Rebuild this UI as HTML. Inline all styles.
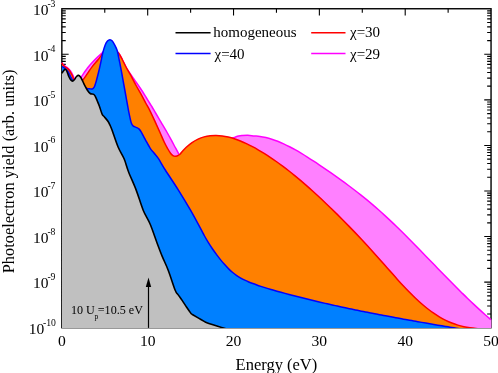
<!DOCTYPE html>
<html><head><meta charset="utf-8"><title>Photoelectron yield</title>
<style>
html,body{margin:0;padding:0;background:#fff;}
body{width:498px;height:373px;overflow:hidden;position:relative;font-family:"Liberation Serif",serif;}
</style></head><body>
<svg width="498" height="373" viewBox="0 0 498 373" style="position:absolute;left:0;top:0">
<rect x="0" y="0" width="498" height="373" fill="#fff"/>
<rect x="61.85" y="8.75" width="429.20" height="318.95" stroke="#000" stroke-width="1.4" fill="none"/>
<path d="M104.77,8.75v3.90M104.77,327.70v-3.90M147.69,8.75v6.80M147.69,327.70v-6.80M190.61,8.75v3.90M190.61,327.70v-3.90M233.53,8.75v6.80M233.53,327.70v-6.80M276.45,8.75v3.90M276.45,327.70v-3.90M319.37,8.75v6.80M319.37,327.70v-6.80M362.29,8.75v3.90M362.29,327.70v-3.90M405.21,8.75v6.80M405.21,327.70v-6.80M448.13,8.75v3.90M448.13,327.70v-3.90M61.85,40.60h3.90M491.05,40.60h-3.90M61.85,32.57h3.90M491.05,32.57h-3.90M61.85,26.88h3.90M491.05,26.88h-3.90M61.85,22.47h3.90M491.05,22.47h-3.90M61.85,18.86h3.90M491.05,18.86h-3.90M61.85,15.81h3.90M491.05,15.81h-3.90M61.85,13.17h3.90M491.05,13.17h-3.90M61.85,10.83h3.90M491.05,10.83h-3.90M61.85,54.31h6.80M491.05,54.31h-6.80M61.85,86.16h3.90M491.05,86.16h-3.90M61.85,78.14h3.90M491.05,78.14h-3.90M61.85,72.45h3.90M491.05,72.45h-3.90M61.85,68.03h3.90M491.05,68.03h-3.90M61.85,64.42h3.90M491.05,64.42h-3.90M61.85,61.37h3.90M491.05,61.37h-3.90M61.85,58.73h3.90M491.05,58.73h-3.90M61.85,56.40h3.90M491.05,56.40h-3.90M61.85,99.88h6.80M491.05,99.88h-6.80M61.85,131.73h3.90M491.05,131.73h-3.90M61.85,123.70h3.90M491.05,123.70h-3.90M61.85,118.01h3.90M491.05,118.01h-3.90M61.85,113.59h3.90M491.05,113.59h-3.90M61.85,109.99h3.90M491.05,109.99h-3.90M61.85,106.94h3.90M491.05,106.94h-3.90M61.85,104.29h3.90M491.05,104.29h-3.90M61.85,101.96h3.90M491.05,101.96h-3.90M61.85,145.44h6.80M491.05,145.44h-6.80M61.85,177.29h3.90M491.05,177.29h-3.90M61.85,169.27h3.90M491.05,169.27h-3.90M61.85,163.57h3.90M491.05,163.57h-3.90M61.85,159.16h3.90M491.05,159.16h-3.90M61.85,155.55h3.90M491.05,155.55h-3.90M61.85,152.50h3.90M491.05,152.50h-3.90M61.85,149.86h3.90M491.05,149.86h-3.90M61.85,147.53h3.90M491.05,147.53h-3.90M61.85,191.01h6.80M491.05,191.01h-6.80M61.85,222.86h3.90M491.05,222.86h-3.90M61.85,214.83h3.90M491.05,214.83h-3.90M61.85,209.14h3.90M491.05,209.14h-3.90M61.85,204.72h3.90M491.05,204.72h-3.90M61.85,201.12h3.90M491.05,201.12h-3.90M61.85,198.07h3.90M491.05,198.07h-3.90M61.85,195.42h3.90M491.05,195.42h-3.90M61.85,193.09h3.90M491.05,193.09h-3.90M61.85,236.57h6.80M491.05,236.57h-6.80M61.85,268.42h3.90M491.05,268.42h-3.90M61.85,260.40h3.90M491.05,260.40h-3.90M61.85,254.70h3.90M491.05,254.70h-3.90M61.85,250.29h3.90M491.05,250.29h-3.90M61.85,246.68h3.90M491.05,246.68h-3.90M61.85,243.63h3.90M491.05,243.63h-3.90M61.85,240.99h3.90M491.05,240.99h-3.90M61.85,238.66h3.90M491.05,238.66h-3.90M61.85,282.14h6.80M491.05,282.14h-6.80M61.85,313.98h3.90M491.05,313.98h-3.90M61.85,305.96h3.90M491.05,305.96h-3.90M61.85,300.27h3.90M491.05,300.27h-3.90M61.85,295.85h3.90M491.05,295.85h-3.90M61.85,292.24h3.90M491.05,292.24h-3.90M61.85,289.19h3.90M491.05,289.19h-3.90M61.85,286.55h3.90M491.05,286.55h-3.90M61.85,284.22h3.90M491.05,284.22h-3.90" stroke="#000" stroke-width="1.1" fill="none"/>
<defs><clipPath id="cp"><rect x="0" y="0" width="498" height="327.90"/></clipPath></defs>
<g clip-path="url(#cp)">
<path d="M62.00,327.90L62.00,62.60L61.90,62.60C62.03,62.82 62.40,63.48 62.70,63.90C63.00,64.32 63.32,64.72 63.70,65.10C64.08,65.48 64.45,65.82 65.00,66.20C65.55,66.58 66.32,66.90 67.00,67.40C67.68,67.90 68.52,68.62 69.10,69.20C69.68,69.78 70.02,70.18 70.50,70.90C70.98,71.62 71.55,72.68 72.00,73.50C72.45,74.32 72.78,74.92 73.20,75.80C73.62,76.68 73.87,78.18 74.50,78.80C75.13,79.42 76.17,79.55 77.00,79.50C77.83,79.45 78.73,79.02 79.50,78.50C80.27,77.98 80.85,77.33 81.60,76.40C82.35,75.47 83.18,74.07 84.00,72.90C84.82,71.73 85.82,70.35 86.50,69.40C87.18,68.45 87.15,68.35 88.10,67.20C89.05,66.05 90.58,64.22 92.20,62.50C93.82,60.78 96.17,58.48 97.80,56.90C99.43,55.32 100.63,54.23 102.00,53.00C103.37,51.77 104.67,50.33 106.00,49.50C107.33,48.67 108.67,48.00 110.00,48.00C111.33,48.00 112.58,48.67 114.00,49.50C115.42,50.33 117.08,51.25 118.50,53.00C119.92,54.75 121.25,57.67 122.50,60.00C123.75,62.33 124.75,64.75 126.00,67.00C127.25,69.25 128.50,71.23 130.00,73.50C131.50,75.77 133.37,78.27 135.00,80.60C136.63,82.93 138.50,85.60 139.80,87.50C141.10,89.40 141.68,90.25 142.80,92.00C143.92,93.75 145.27,96.00 146.50,98.00C147.73,100.00 149.27,102.50 150.20,104.00C151.13,105.50 151.20,105.50 152.10,107.00C153.00,108.50 154.12,110.48 155.60,113.00C157.08,115.52 159.12,118.93 161.00,122.10C162.88,125.27 165.12,128.98 166.85,132.00C168.58,135.02 169.99,137.62 171.40,140.20C172.81,142.78 174.10,145.27 175.30,147.50C176.50,149.73 177.82,152.18 178.60,153.60C179.38,155.02 179.27,155.43 180.00,156.00C180.73,156.57 181.33,157.67 183.00,157.00C184.67,156.33 187.17,153.83 190.00,152.00C192.83,150.17 195.83,147.83 200.00,146.00C204.17,144.17 210.83,142.17 215.00,141.00C219.17,139.83 221.93,139.53 225.00,139.00C228.07,138.47 231.57,138.17 233.40,137.80C235.23,137.43 235.15,137.08 236.00,136.80C236.85,136.52 237.50,136.30 238.50,136.10C239.50,135.90 240.47,135.73 242.00,135.60C243.53,135.47 245.70,135.25 247.70,135.30C249.70,135.35 251.96,135.71 254.00,135.90C256.04,136.08 257.95,136.14 259.93,136.41C261.90,136.68 263.88,137.06 265.86,137.52C267.83,137.98 269.81,138.54 271.78,139.17C273.76,139.80 275.73,140.52 277.71,141.30C279.69,142.08 281.66,142.94 283.64,143.85C285.61,144.76 287.59,145.73 289.56,146.75C291.54,147.77 293.52,148.85 295.49,149.96C297.47,151.07 299.44,152.23 301.42,153.42C303.40,154.60 305.37,155.83 307.35,157.08C309.32,158.33 311.30,159.61 313.27,160.91C315.25,162.20 317.23,163.52 319.20,164.85C321.18,166.17 323.15,167.51 325.13,168.86C327.11,170.21 329.08,171.57 331.06,172.95C333.03,174.32 335.01,175.71 336.99,177.12C338.96,178.52 340.94,179.94 342.91,181.38C344.89,182.83 346.86,184.28 348.84,185.76C350.82,187.24 352.79,188.74 354.77,190.27C356.74,191.79 358.72,193.34 360.69,194.91C362.67,196.48 364.65,198.08 366.62,199.70C368.60,201.33 370.57,202.98 372.55,204.66C374.53,206.34 376.50,208.05 378.48,209.80C380.45,211.54 382.43,213.32 384.40,215.12C386.38,216.93 388.36,218.77 390.33,220.63C392.31,222.49 394.28,224.38 396.26,226.29C398.24,228.20 400.21,230.13 402.19,232.08C404.16,234.03 406.14,236.00 408.12,237.99C410.09,239.97 412.07,241.97 414.04,243.98C416.02,245.99 417.99,248.01 419.97,250.04C421.95,252.07 423.92,254.11 425.90,256.15C427.87,258.18 429.85,260.23 431.83,262.27C433.80,264.31 435.78,266.36 437.75,268.40C439.73,270.44 441.70,272.47 443.68,274.50C445.66,276.53 447.63,278.55 449.61,280.56C451.58,282.57 453.56,284.57 455.53,286.55C457.51,288.53 459.49,290.50 461.46,292.45C463.44,294.39 465.41,296.33 467.39,298.23C469.37,300.14 471.34,302.03 473.32,303.88C475.29,305.74 477.27,307.58 479.25,309.38C481.22,311.18 483.20,312.95 485.17,314.69C487.15,316.43 490.11,318.95 491.10,319.80L491.40,319.80L491.40,327.90Z" fill="#ff80ff" stroke="none"/>
<path d="M61.90,62.60C62.03,62.82 62.40,63.48 62.70,63.90C63.00,64.32 63.32,64.72 63.70,65.10C64.08,65.48 64.45,65.82 65.00,66.20C65.55,66.58 66.32,66.90 67.00,67.40C67.68,67.90 68.52,68.62 69.10,69.20C69.68,69.78 70.02,70.18 70.50,70.90C70.98,71.62 71.55,72.68 72.00,73.50C72.45,74.32 72.78,74.92 73.20,75.80C73.62,76.68 73.87,78.18 74.50,78.80C75.13,79.42 76.17,79.55 77.00,79.50C77.83,79.45 78.73,79.02 79.50,78.50C80.27,77.98 80.85,77.33 81.60,76.40C82.35,75.47 83.18,74.07 84.00,72.90C84.82,71.73 85.82,70.35 86.50,69.40C87.18,68.45 87.15,68.35 88.10,67.20C89.05,66.05 90.58,64.22 92.20,62.50C93.82,60.78 96.17,58.48 97.80,56.90C99.43,55.32 100.63,54.23 102.00,53.00C103.37,51.77 104.67,50.33 106.00,49.50C107.33,48.67 108.67,48.00 110.00,48.00C111.33,48.00 112.58,48.67 114.00,49.50C115.42,50.33 117.08,51.25 118.50,53.00C119.92,54.75 121.25,57.67 122.50,60.00C123.75,62.33 124.75,64.75 126.00,67.00C127.25,69.25 128.50,71.23 130.00,73.50C131.50,75.77 133.37,78.27 135.00,80.60C136.63,82.93 138.50,85.60 139.80,87.50C141.10,89.40 141.68,90.25 142.80,92.00C143.92,93.75 145.27,96.00 146.50,98.00C147.73,100.00 149.27,102.50 150.20,104.00C151.13,105.50 151.20,105.50 152.10,107.00C153.00,108.50 154.12,110.48 155.60,113.00C157.08,115.52 159.12,118.93 161.00,122.10C162.88,125.27 165.12,128.98 166.85,132.00C168.58,135.02 169.99,137.62 171.40,140.20C172.81,142.78 174.10,145.27 175.30,147.50C176.50,149.73 177.82,152.18 178.60,153.60C179.38,155.02 179.27,155.43 180.00,156.00C180.73,156.57 181.33,157.67 183.00,157.00C184.67,156.33 187.17,153.83 190.00,152.00C192.83,150.17 195.83,147.83 200.00,146.00C204.17,144.17 210.83,142.17 215.00,141.00C219.17,139.83 221.93,139.53 225.00,139.00C228.07,138.47 231.57,138.17 233.40,137.80C235.23,137.43 235.15,137.08 236.00,136.80C236.85,136.52 237.50,136.30 238.50,136.10C239.50,135.90 240.47,135.73 242.00,135.60C243.53,135.47 245.70,135.25 247.70,135.30C249.70,135.35 251.96,135.71 254.00,135.90C256.04,136.08 257.95,136.14 259.93,136.41C261.90,136.68 263.88,137.06 265.86,137.52C267.83,137.98 269.81,138.54 271.78,139.17C273.76,139.80 275.73,140.52 277.71,141.30C279.69,142.08 281.66,142.94 283.64,143.85C285.61,144.76 287.59,145.73 289.56,146.75C291.54,147.77 293.52,148.85 295.49,149.96C297.47,151.07 299.44,152.23 301.42,153.42C303.40,154.60 305.37,155.83 307.35,157.08C309.32,158.33 311.30,159.61 313.27,160.91C315.25,162.20 317.23,163.52 319.20,164.85C321.18,166.17 323.15,167.51 325.13,168.86C327.11,170.21 329.08,171.57 331.06,172.95C333.03,174.32 335.01,175.71 336.99,177.12C338.96,178.52 340.94,179.94 342.91,181.38C344.89,182.83 346.86,184.28 348.84,185.76C350.82,187.24 352.79,188.74 354.77,190.27C356.74,191.79 358.72,193.34 360.69,194.91C362.67,196.48 364.65,198.08 366.62,199.70C368.60,201.33 370.57,202.98 372.55,204.66C374.53,206.34 376.50,208.05 378.48,209.80C380.45,211.54 382.43,213.32 384.40,215.12C386.38,216.93 388.36,218.77 390.33,220.63C392.31,222.49 394.28,224.38 396.26,226.29C398.24,228.20 400.21,230.13 402.19,232.08C404.16,234.03 406.14,236.00 408.12,237.99C410.09,239.97 412.07,241.97 414.04,243.98C416.02,245.99 417.99,248.01 419.97,250.04C421.95,252.07 423.92,254.11 425.90,256.15C427.87,258.18 429.85,260.23 431.83,262.27C433.80,264.31 435.78,266.36 437.75,268.40C439.73,270.44 441.70,272.47 443.68,274.50C445.66,276.53 447.63,278.55 449.61,280.56C451.58,282.57 453.56,284.57 455.53,286.55C457.51,288.53 459.49,290.50 461.46,292.45C463.44,294.39 465.41,296.33 467.39,298.23C469.37,300.14 471.34,302.03 473.32,303.88C475.29,305.74 477.27,307.58 479.25,309.38C481.22,311.18 483.20,312.95 485.17,314.69C487.15,316.43 490.11,318.95 491.10,319.80" fill="none" stroke="#ff00ff" stroke-width="1.5" stroke-linejoin="round"/>

<path d="M62.00,327.90L62.00,62.90L61.90,62.90C62.02,63.13 62.33,63.85 62.60,64.30C62.87,64.75 63.10,65.18 63.50,65.60C63.90,66.02 64.42,66.38 65.00,66.80C65.58,67.22 66.32,67.55 67.00,68.10C67.68,68.65 68.58,69.50 69.10,70.10C69.62,70.70 69.75,71.13 70.10,71.70C70.45,72.27 70.80,72.78 71.20,73.50C71.60,74.22 72.08,75.07 72.50,76.00C72.92,76.93 73.12,78.35 73.70,79.10C74.28,79.85 74.95,80.10 76.00,80.50C77.05,80.90 78.78,81.68 80.00,81.50C81.22,81.32 82.07,80.72 83.30,79.40C84.53,78.08 85.92,75.73 87.40,73.60C88.88,71.47 90.43,68.92 92.20,66.60C93.97,64.28 96.33,61.77 98.00,59.70C99.67,57.63 100.87,55.90 102.20,54.20C103.53,52.50 104.70,50.53 106.00,49.50C107.30,48.47 108.67,48.00 110.00,48.00C111.33,48.00 112.58,48.67 114.00,49.50C115.42,50.33 117.08,51.25 118.50,53.00C119.92,54.75 121.25,57.67 122.50,60.00C123.75,62.33 124.73,64.63 126.00,67.00C127.27,69.37 128.47,71.20 130.10,74.20C131.73,77.20 133.87,81.48 135.80,85.00C137.73,88.52 140.05,92.30 141.70,95.30C143.35,98.30 144.32,100.42 145.70,103.00C147.08,105.58 148.40,107.62 150.00,110.80C151.60,113.98 153.63,118.48 155.30,122.10C156.97,125.72 158.50,129.13 160.00,132.50C161.50,135.87 163.03,139.63 164.30,142.30C165.57,144.97 166.53,146.63 167.60,148.50C168.67,150.37 169.82,152.32 170.70,153.50C171.58,154.68 172.17,155.13 172.90,155.60C173.63,156.07 174.33,156.28 175.10,156.30C175.87,156.32 176.68,156.05 177.50,155.70C178.32,155.35 179.20,154.92 180.00,154.20C180.80,153.48 181.30,152.52 182.30,151.40C183.30,150.28 184.38,148.96 186.00,147.49C187.62,146.01 190.03,143.95 192.04,142.55C194.05,141.15 196.07,140.02 198.08,139.08C200.10,138.13 202.11,137.43 204.12,136.87C206.14,136.32 208.15,135.97 210.16,135.74C212.18,135.50 214.19,135.44 216.20,135.47C218.22,135.51 220.23,135.68 222.24,135.95C224.26,136.21 226.27,136.60 228.29,137.07C230.30,137.55 232.31,138.13 234.33,138.79C236.34,139.44 238.35,140.20 240.37,141.01C242.38,141.82 244.39,142.72 246.41,143.67C248.42,144.62 250.44,145.64 252.45,146.70C254.46,147.76 256.48,148.88 258.49,150.04C260.50,151.20 262.52,152.41 264.53,153.67C266.54,154.93 268.56,156.23 270.57,157.58C272.59,158.92 274.60,160.31 276.61,161.74C278.63,163.17 280.64,164.64 282.65,166.15C284.67,167.65 286.68,169.20 288.69,170.78C290.71,172.36 292.72,173.97 294.73,175.61C296.75,177.26 298.76,178.94 300.78,180.64C302.79,182.35 304.80,184.09 306.82,185.85C308.83,187.61 310.84,189.41 312.86,191.23C314.87,193.04 316.88,194.89 318.90,196.76C320.91,198.62 322.93,200.52 324.94,202.43C326.95,204.34 328.97,206.28 330.98,208.23C332.99,210.18 335.01,212.16 337.02,214.15C339.03,216.15 341.05,218.16 343.06,220.19C345.07,222.22 347.09,224.28 349.10,226.35C351.12,228.42 353.13,230.51 355.14,232.62C357.16,234.73 359.17,236.86 361.18,239.01C363.20,241.16 365.21,243.33 367.22,245.52C369.24,247.71 371.25,249.92 373.27,252.14C375.28,254.37 377.29,256.62 379.31,258.88C381.32,261.14 383.33,263.44 385.35,265.72C387.36,268.01 389.37,270.32 391.39,272.59C393.40,274.87 395.41,277.15 397.43,279.39C399.44,281.62 401.46,283.84 403.47,286.00C405.48,288.16 407.50,290.29 409.51,292.34C411.52,294.39 413.54,296.39 415.55,298.30C417.56,300.20 419.58,302.04 421.59,303.78C423.61,305.53 425.62,307.19 427.63,308.76C429.65,310.33 431.66,311.82 433.67,313.21C435.69,314.60 437.70,315.90 439.71,317.09C441.73,318.29 443.74,319.39 445.76,320.38C447.77,321.38 449.78,322.26 451.80,323.06C453.81,323.85 455.82,324.53 457.84,325.13C459.85,325.74 461.86,326.24 463.88,326.68C465.89,327.12 467.90,327.47 469.92,327.77C471.93,328.06 473.95,328.28 475.96,328.45C477.97,328.62 480.99,328.74 482.00,328.80L482.00,327.90Z" fill="#ff8000" stroke="none"/>
<path d="M61.90,62.90C62.02,63.13 62.33,63.85 62.60,64.30C62.87,64.75 63.10,65.18 63.50,65.60C63.90,66.02 64.42,66.38 65.00,66.80C65.58,67.22 66.32,67.55 67.00,68.10C67.68,68.65 68.58,69.50 69.10,70.10C69.62,70.70 69.75,71.13 70.10,71.70C70.45,72.27 70.80,72.78 71.20,73.50C71.60,74.22 72.08,75.07 72.50,76.00C72.92,76.93 73.12,78.35 73.70,79.10C74.28,79.85 74.95,80.10 76.00,80.50C77.05,80.90 78.78,81.68 80.00,81.50C81.22,81.32 82.07,80.72 83.30,79.40C84.53,78.08 85.92,75.73 87.40,73.60C88.88,71.47 90.43,68.92 92.20,66.60C93.97,64.28 96.33,61.77 98.00,59.70C99.67,57.63 100.87,55.90 102.20,54.20C103.53,52.50 104.70,50.53 106.00,49.50C107.30,48.47 108.67,48.00 110.00,48.00C111.33,48.00 112.58,48.67 114.00,49.50C115.42,50.33 117.08,51.25 118.50,53.00C119.92,54.75 121.25,57.67 122.50,60.00C123.75,62.33 124.73,64.63 126.00,67.00C127.27,69.37 128.47,71.20 130.10,74.20C131.73,77.20 133.87,81.48 135.80,85.00C137.73,88.52 140.05,92.30 141.70,95.30C143.35,98.30 144.32,100.42 145.70,103.00C147.08,105.58 148.40,107.62 150.00,110.80C151.60,113.98 153.63,118.48 155.30,122.10C156.97,125.72 158.50,129.13 160.00,132.50C161.50,135.87 163.03,139.63 164.30,142.30C165.57,144.97 166.53,146.63 167.60,148.50C168.67,150.37 169.82,152.32 170.70,153.50C171.58,154.68 172.17,155.13 172.90,155.60C173.63,156.07 174.33,156.28 175.10,156.30C175.87,156.32 176.68,156.05 177.50,155.70C178.32,155.35 179.20,154.92 180.00,154.20C180.80,153.48 181.30,152.52 182.30,151.40C183.30,150.28 184.38,148.96 186.00,147.49C187.62,146.01 190.03,143.95 192.04,142.55C194.05,141.15 196.07,140.02 198.08,139.08C200.10,138.13 202.11,137.43 204.12,136.87C206.14,136.32 208.15,135.97 210.16,135.74C212.18,135.50 214.19,135.44 216.20,135.47C218.22,135.51 220.23,135.68 222.24,135.95C224.26,136.21 226.27,136.60 228.29,137.07C230.30,137.55 232.31,138.13 234.33,138.79C236.34,139.44 238.35,140.20 240.37,141.01C242.38,141.82 244.39,142.72 246.41,143.67C248.42,144.62 250.44,145.64 252.45,146.70C254.46,147.76 256.48,148.88 258.49,150.04C260.50,151.20 262.52,152.41 264.53,153.67C266.54,154.93 268.56,156.23 270.57,157.58C272.59,158.92 274.60,160.31 276.61,161.74C278.63,163.17 280.64,164.64 282.65,166.15C284.67,167.65 286.68,169.20 288.69,170.78C290.71,172.36 292.72,173.97 294.73,175.61C296.75,177.26 298.76,178.94 300.78,180.64C302.79,182.35 304.80,184.09 306.82,185.85C308.83,187.61 310.84,189.41 312.86,191.23C314.87,193.04 316.88,194.89 318.90,196.76C320.91,198.62 322.93,200.52 324.94,202.43C326.95,204.34 328.97,206.28 330.98,208.23C332.99,210.18 335.01,212.16 337.02,214.15C339.03,216.15 341.05,218.16 343.06,220.19C345.07,222.22 347.09,224.28 349.10,226.35C351.12,228.42 353.13,230.51 355.14,232.62C357.16,234.73 359.17,236.86 361.18,239.01C363.20,241.16 365.21,243.33 367.22,245.52C369.24,247.71 371.25,249.92 373.27,252.14C375.28,254.37 377.29,256.62 379.31,258.88C381.32,261.14 383.33,263.44 385.35,265.72C387.36,268.01 389.37,270.32 391.39,272.59C393.40,274.87 395.41,277.15 397.43,279.39C399.44,281.62 401.46,283.84 403.47,286.00C405.48,288.16 407.50,290.29 409.51,292.34C411.52,294.39 413.54,296.39 415.55,298.30C417.56,300.20 419.58,302.04 421.59,303.78C423.61,305.53 425.62,307.19 427.63,308.76C429.65,310.33 431.66,311.82 433.67,313.21C435.69,314.60 437.70,315.90 439.71,317.09C441.73,318.29 443.74,319.39 445.76,320.38C447.77,321.38 449.78,322.26 451.80,323.06C453.81,323.85 455.82,324.53 457.84,325.13C459.85,325.74 461.86,326.24 463.88,326.68C465.89,327.12 467.90,327.47 469.92,327.77C471.93,328.06 473.95,328.28 475.96,328.45C477.97,328.62 480.99,328.74 482.00,328.80" fill="none" stroke="#ff0000" stroke-width="1.5" stroke-linejoin="round"/>

<path d="M62.00,327.90L62.00,66.30L61.90,66.30C62.38,66.63 63.78,67.43 64.80,68.30C65.82,69.17 67.05,70.13 68.00,71.50C68.95,72.87 69.72,75.05 70.50,76.50C71.28,77.95 71.95,79.37 72.70,80.20C73.45,81.03 73.78,80.87 75.00,81.50C76.22,82.13 78.02,82.87 80.00,84.00C81.98,85.13 85.32,87.52 86.90,88.30C88.48,89.08 88.60,88.58 89.50,88.70C90.40,88.82 91.52,89.25 92.30,89.00C93.08,88.75 93.68,88.05 94.20,87.20C94.72,86.35 95.02,85.07 95.40,83.90C95.78,82.73 95.88,82.52 96.50,80.20C97.12,77.88 98.30,73.37 99.10,70.00C99.90,66.63 100.68,62.87 101.30,60.00C101.92,57.13 102.15,55.30 102.80,52.80C103.45,50.30 104.42,46.97 105.20,45.00C105.98,43.03 106.72,41.88 107.50,41.00C108.28,40.12 109.10,39.70 109.90,39.70C110.70,39.70 111.47,40.07 112.30,41.00C113.13,41.93 114.12,43.80 114.90,45.30C115.68,46.80 116.45,48.38 117.00,50.00C117.55,51.62 117.83,53.33 118.20,55.00C118.57,56.67 118.87,58.33 119.20,60.00C119.53,61.67 119.72,62.50 120.20,65.00C120.68,67.50 121.48,71.67 122.10,75.00C122.72,78.33 123.30,81.67 123.90,85.00C124.50,88.33 125.10,91.67 125.70,95.00C126.30,98.33 127.05,102.50 127.50,105.00C127.95,107.50 128.03,108.10 128.40,110.00C128.77,111.90 129.22,114.25 129.70,116.40C130.18,118.55 130.70,121.28 131.30,122.90C131.90,124.52 132.50,125.37 133.30,126.10C134.10,126.83 135.17,126.83 136.10,127.30C137.03,127.77 138.03,128.10 138.90,128.90C139.77,129.70 140.43,130.68 141.30,132.10C142.17,133.52 143.42,136.12 144.10,137.40C144.78,138.68 144.38,137.98 145.40,139.80C146.42,141.62 148.77,146.10 150.20,148.30C151.63,150.50 152.65,151.32 154.00,153.00C155.35,154.68 156.42,155.57 158.30,158.40C160.18,161.23 161.95,164.72 165.30,170.00C168.65,175.28 174.20,183.40 178.40,190.10C182.60,196.80 186.82,203.82 190.50,210.20C194.18,216.58 198.16,224.10 200.50,228.40C202.84,232.70 203.18,233.58 204.52,235.99C205.86,238.39 207.21,240.64 208.55,242.81C209.89,244.97 211.23,247.01 212.57,248.99C213.91,250.96 215.25,252.83 216.59,254.65C217.93,256.46 219.27,258.21 220.62,259.87C221.96,261.53 223.30,263.12 224.64,264.62C225.98,266.11 227.32,267.53 228.66,268.84C230.00,270.15 231.34,271.37 232.68,272.48C234.03,273.60 235.37,274.60 236.71,275.54C238.05,276.47 239.39,277.30 240.73,278.07C242.07,278.85 243.41,279.54 244.75,280.19C246.09,280.85 247.44,281.43 248.78,281.99C250.12,282.55 251.46,283.06 252.80,283.56C254.14,284.06 255.48,284.53 256.82,285.00C258.16,285.47 259.51,285.92 260.85,286.36C262.19,286.80 263.53,287.22 264.87,287.64C266.21,288.06 267.55,288.47 268.89,288.87C270.23,289.27 271.57,289.66 272.92,290.04C274.26,290.43 275.60,290.81 276.94,291.18C278.28,291.55 279.62,291.92 280.96,292.29C282.30,292.66 283.64,293.02 284.98,293.38C286.33,293.74 287.67,294.10 289.01,294.45C290.35,294.81 291.69,295.16 293.03,295.51C294.37,295.86 295.71,296.21 297.05,296.55C298.39,296.89 299.74,297.23 301.08,297.57C302.42,297.91 303.76,298.24 305.10,298.58C306.44,298.91 307.78,299.24 309.12,299.57C310.46,299.89 311.81,300.22 313.15,300.54C314.49,300.86 315.83,301.18 317.17,301.50C318.51,301.81 319.85,302.13 321.19,302.44C322.53,302.75 323.87,303.06 325.22,303.37C326.56,303.68 327.90,303.98 329.24,304.29C330.58,304.59 331.92,304.89 333.26,305.19C334.60,305.49 335.94,305.78 337.28,306.08C338.63,306.37 339.97,306.66 341.31,306.95C342.65,307.24 343.99,307.53 345.33,307.81C346.67,308.10 348.01,308.38 349.35,308.67C350.69,308.95 352.04,309.23 353.38,309.51C354.72,309.78 356.06,310.06 357.40,310.33C358.74,310.61 360.08,310.88 361.42,311.15C362.76,311.42 364.11,311.69 365.45,311.96C366.79,312.22 368.13,312.49 369.47,312.75C370.81,313.02 372.15,313.28 373.49,313.54C374.83,313.80 376.17,314.06 377.52,314.32C378.86,314.58 380.20,314.83 381.54,315.09C382.88,315.34 384.22,315.60 385.56,315.85C386.90,316.10 388.24,316.35 389.58,316.60C390.93,316.85 392.27,317.10 393.61,317.35C394.95,317.59 396.29,317.84 397.63,318.08C398.97,318.33 400.31,318.57 401.65,318.81C402.99,319.06 404.34,319.30 405.68,319.54C407.02,319.78 408.36,320.02 409.70,320.25C411.04,320.49 412.38,320.73 413.72,320.97C415.06,321.20 416.41,321.44 417.75,321.67C419.09,321.91 420.43,322.14 421.77,322.37C423.11,322.61 424.45,322.84 425.79,323.07C427.13,323.30 428.47,323.53 429.82,323.76C431.16,323.99 432.50,324.22 433.84,324.45C435.18,324.68 436.52,324.91 437.86,325.14C439.20,325.37 440.54,325.59 441.88,325.82C443.23,326.05 444.57,326.27 445.91,326.50C447.25,326.73 448.59,326.95 449.93,327.18C451.27,327.40 452.61,327.63 453.95,327.85C455.29,328.08 456.64,328.30 457.98,328.53C459.32,328.75 461.33,329.09 462.00,329.20L462.00,327.90Z" fill="#0080ff" stroke="none"/>
<path d="M61.90,66.30C62.38,66.63 63.78,67.43 64.80,68.30C65.82,69.17 67.05,70.13 68.00,71.50C68.95,72.87 69.72,75.05 70.50,76.50C71.28,77.95 71.95,79.37 72.70,80.20C73.45,81.03 73.78,80.87 75.00,81.50C76.22,82.13 78.02,82.87 80.00,84.00C81.98,85.13 85.32,87.52 86.90,88.30C88.48,89.08 88.60,88.58 89.50,88.70C90.40,88.82 91.52,89.25 92.30,89.00C93.08,88.75 93.68,88.05 94.20,87.20C94.72,86.35 95.02,85.07 95.40,83.90C95.78,82.73 95.88,82.52 96.50,80.20C97.12,77.88 98.30,73.37 99.10,70.00C99.90,66.63 100.68,62.87 101.30,60.00C101.92,57.13 102.15,55.30 102.80,52.80C103.45,50.30 104.42,46.97 105.20,45.00C105.98,43.03 106.72,41.88 107.50,41.00C108.28,40.12 109.10,39.70 109.90,39.70C110.70,39.70 111.47,40.07 112.30,41.00C113.13,41.93 114.12,43.80 114.90,45.30C115.68,46.80 116.45,48.38 117.00,50.00C117.55,51.62 117.83,53.33 118.20,55.00C118.57,56.67 118.87,58.33 119.20,60.00C119.53,61.67 119.72,62.50 120.20,65.00C120.68,67.50 121.48,71.67 122.10,75.00C122.72,78.33 123.30,81.67 123.90,85.00C124.50,88.33 125.10,91.67 125.70,95.00C126.30,98.33 127.05,102.50 127.50,105.00C127.95,107.50 128.03,108.10 128.40,110.00C128.77,111.90 129.22,114.25 129.70,116.40C130.18,118.55 130.70,121.28 131.30,122.90C131.90,124.52 132.50,125.37 133.30,126.10C134.10,126.83 135.17,126.83 136.10,127.30C137.03,127.77 138.03,128.10 138.90,128.90C139.77,129.70 140.43,130.68 141.30,132.10C142.17,133.52 143.42,136.12 144.10,137.40C144.78,138.68 144.38,137.98 145.40,139.80C146.42,141.62 148.77,146.10 150.20,148.30C151.63,150.50 152.65,151.32 154.00,153.00C155.35,154.68 156.42,155.57 158.30,158.40C160.18,161.23 161.95,164.72 165.30,170.00C168.65,175.28 174.20,183.40 178.40,190.10C182.60,196.80 186.82,203.82 190.50,210.20C194.18,216.58 198.16,224.10 200.50,228.40C202.84,232.70 203.18,233.58 204.52,235.99C205.86,238.39 207.21,240.64 208.55,242.81C209.89,244.97 211.23,247.01 212.57,248.99C213.91,250.96 215.25,252.83 216.59,254.65C217.93,256.46 219.27,258.21 220.62,259.87C221.96,261.53 223.30,263.12 224.64,264.62C225.98,266.11 227.32,267.53 228.66,268.84C230.00,270.15 231.34,271.37 232.68,272.48C234.03,273.60 235.37,274.60 236.71,275.54C238.05,276.47 239.39,277.30 240.73,278.07C242.07,278.85 243.41,279.54 244.75,280.19C246.09,280.85 247.44,281.43 248.78,281.99C250.12,282.55 251.46,283.06 252.80,283.56C254.14,284.06 255.48,284.53 256.82,285.00C258.16,285.47 259.51,285.92 260.85,286.36C262.19,286.80 263.53,287.22 264.87,287.64C266.21,288.06 267.55,288.47 268.89,288.87C270.23,289.27 271.57,289.66 272.92,290.04C274.26,290.43 275.60,290.81 276.94,291.18C278.28,291.55 279.62,291.92 280.96,292.29C282.30,292.66 283.64,293.02 284.98,293.38C286.33,293.74 287.67,294.10 289.01,294.45C290.35,294.81 291.69,295.16 293.03,295.51C294.37,295.86 295.71,296.21 297.05,296.55C298.39,296.89 299.74,297.23 301.08,297.57C302.42,297.91 303.76,298.24 305.10,298.58C306.44,298.91 307.78,299.24 309.12,299.57C310.46,299.89 311.81,300.22 313.15,300.54C314.49,300.86 315.83,301.18 317.17,301.50C318.51,301.81 319.85,302.13 321.19,302.44C322.53,302.75 323.87,303.06 325.22,303.37C326.56,303.68 327.90,303.98 329.24,304.29C330.58,304.59 331.92,304.89 333.26,305.19C334.60,305.49 335.94,305.78 337.28,306.08C338.63,306.37 339.97,306.66 341.31,306.95C342.65,307.24 343.99,307.53 345.33,307.81C346.67,308.10 348.01,308.38 349.35,308.67C350.69,308.95 352.04,309.23 353.38,309.51C354.72,309.78 356.06,310.06 357.40,310.33C358.74,310.61 360.08,310.88 361.42,311.15C362.76,311.42 364.11,311.69 365.45,311.96C366.79,312.22 368.13,312.49 369.47,312.75C370.81,313.02 372.15,313.28 373.49,313.54C374.83,313.80 376.17,314.06 377.52,314.32C378.86,314.58 380.20,314.83 381.54,315.09C382.88,315.34 384.22,315.60 385.56,315.85C386.90,316.10 388.24,316.35 389.58,316.60C390.93,316.85 392.27,317.10 393.61,317.35C394.95,317.59 396.29,317.84 397.63,318.08C398.97,318.33 400.31,318.57 401.65,318.81C402.99,319.06 404.34,319.30 405.68,319.54C407.02,319.78 408.36,320.02 409.70,320.25C411.04,320.49 412.38,320.73 413.72,320.97C415.06,321.20 416.41,321.44 417.75,321.67C419.09,321.91 420.43,322.14 421.77,322.37C423.11,322.61 424.45,322.84 425.79,323.07C427.13,323.30 428.47,323.53 429.82,323.76C431.16,323.99 432.50,324.22 433.84,324.45C435.18,324.68 436.52,324.91 437.86,325.14C439.20,325.37 440.54,325.59 441.88,325.82C443.23,326.05 444.57,326.27 445.91,326.50C447.25,326.73 448.59,326.95 449.93,327.18C451.27,327.40 452.61,327.63 453.95,327.85C455.29,328.08 456.64,328.30 457.98,328.53C459.32,328.75 461.33,329.09 462.00,329.20" fill="none" stroke="#0000ff" stroke-width="1.5" stroke-linejoin="round"/>

<path d="M62.00,327.90L62.00,73.20L61.90,73.20C62.18,72.80 63.07,71.45 63.60,70.80C64.13,70.15 64.58,69.27 65.10,69.30C65.62,69.33 66.08,69.80 66.70,71.00C67.32,72.20 68.12,75.00 68.80,76.50C69.48,78.00 70.18,79.23 70.80,80.00C71.42,80.77 71.92,81.13 72.50,81.10C73.08,81.07 73.63,80.57 74.30,79.80C74.97,79.03 75.77,77.23 76.50,76.50C77.23,75.77 78.00,75.28 78.70,75.40C79.40,75.52 80.00,76.18 80.70,77.20C81.40,78.22 82.27,80.20 82.90,81.50C83.53,82.80 83.75,83.55 84.50,85.00C85.25,86.45 86.45,88.78 87.40,90.20C88.35,91.62 89.15,92.80 90.20,93.50C91.25,94.20 92.82,93.85 93.70,94.40C94.58,94.95 94.92,95.73 95.50,96.80C96.08,97.87 96.53,99.18 97.20,100.80C97.87,102.42 98.68,104.28 99.50,106.50C100.32,108.72 101.27,112.35 102.10,114.10C102.93,115.85 103.50,115.77 104.50,117.00C105.50,118.23 107.18,120.13 108.10,121.50C109.02,122.87 109.33,123.75 110.00,125.20C110.67,126.65 110.75,126.57 112.10,130.20C113.45,133.83 116.10,142.23 118.10,147.00C120.10,151.77 122.35,154.63 124.10,158.80C125.85,162.97 126.58,166.78 128.60,172.00C130.62,177.22 133.77,183.73 136.20,190.10C138.63,196.47 140.87,204.50 143.20,210.20C145.53,215.90 147.95,219.00 150.20,224.30C152.45,229.60 154.72,236.70 156.70,242.00C158.68,247.30 160.18,251.40 162.10,256.10C164.02,260.80 166.02,264.50 168.20,270.20C170.38,275.90 173.57,286.23 175.20,290.30C176.83,294.37 176.82,292.88 178.00,294.60C179.18,296.32 180.88,298.53 182.30,300.60C183.72,302.67 185.15,305.00 186.50,307.00C187.85,309.00 189.55,311.43 190.40,312.60C191.25,313.77 191.13,313.60 191.60,314.00C192.07,314.40 191.97,314.27 193.20,315.00C194.43,315.73 197.10,317.30 199.00,318.40C200.90,319.50 203.40,320.93 204.60,321.60C205.80,322.27 204.80,321.88 206.20,322.40C207.60,322.92 210.45,323.87 213.00,324.70C215.55,325.53 219.17,326.68 221.50,327.40C223.83,328.12 226.08,328.73 227.00,329.00L227.00,327.90Z" fill="#c0c0c0" stroke="none"/>
<path d="M61.90,73.20C62.18,72.80 63.07,71.45 63.60,70.80C64.13,70.15 64.58,69.27 65.10,69.30C65.62,69.33 66.08,69.80 66.70,71.00C67.32,72.20 68.12,75.00 68.80,76.50C69.48,78.00 70.18,79.23 70.80,80.00C71.42,80.77 71.92,81.13 72.50,81.10C73.08,81.07 73.63,80.57 74.30,79.80C74.97,79.03 75.77,77.23 76.50,76.50C77.23,75.77 78.00,75.28 78.70,75.40C79.40,75.52 80.00,76.18 80.70,77.20C81.40,78.22 82.27,80.20 82.90,81.50C83.53,82.80 83.75,83.55 84.50,85.00C85.25,86.45 86.45,88.78 87.40,90.20C88.35,91.62 89.15,92.80 90.20,93.50C91.25,94.20 92.82,93.85 93.70,94.40C94.58,94.95 94.92,95.73 95.50,96.80C96.08,97.87 96.53,99.18 97.20,100.80C97.87,102.42 98.68,104.28 99.50,106.50C100.32,108.72 101.27,112.35 102.10,114.10C102.93,115.85 103.50,115.77 104.50,117.00C105.50,118.23 107.18,120.13 108.10,121.50C109.02,122.87 109.33,123.75 110.00,125.20C110.67,126.65 110.75,126.57 112.10,130.20C113.45,133.83 116.10,142.23 118.10,147.00C120.10,151.77 122.35,154.63 124.10,158.80C125.85,162.97 126.58,166.78 128.60,172.00C130.62,177.22 133.77,183.73 136.20,190.10C138.63,196.47 140.87,204.50 143.20,210.20C145.53,215.90 147.95,219.00 150.20,224.30C152.45,229.60 154.72,236.70 156.70,242.00C158.68,247.30 160.18,251.40 162.10,256.10C164.02,260.80 166.02,264.50 168.20,270.20C170.38,275.90 173.57,286.23 175.20,290.30C176.83,294.37 176.82,292.88 178.00,294.60C179.18,296.32 180.88,298.53 182.30,300.60C183.72,302.67 185.15,305.00 186.50,307.00C187.85,309.00 189.55,311.43 190.40,312.60C191.25,313.77 191.13,313.60 191.60,314.00C192.07,314.40 191.97,314.27 193.20,315.00C194.43,315.73 197.10,317.30 199.00,318.40C200.90,319.50 203.40,320.93 204.60,321.60C205.80,322.27 204.80,321.88 206.20,322.40C207.60,322.92 210.45,323.87 213.00,324.70C215.55,325.53 219.17,326.68 221.50,327.40C223.83,328.12 226.08,328.73 227.00,329.00" fill="none" stroke="#000000" stroke-width="1.6" stroke-linejoin="round"/>

</g>
<path d="M148.50,327.9V286" stroke="#000" stroke-width="1.2" fill="none"/>
<path d="M148.50,277.6L145.80,287L151.20,287Z" fill="#000"/>
<path d="M175.5,32.7H210.6" stroke="#000" stroke-width="1.4"/>
<path d="M175.5,53.5H210.6" stroke="#0000ff" stroke-width="1.4"/>
<path d="M311.2,32.7H345.5" stroke="#ff0000" stroke-width="1.4"/>
<path d="M311.2,53.5H345.5" stroke="#ff00ff" stroke-width="1.4"/>
</svg>
<svg width="498" height="373" viewBox="0 0 498 373" style="position:absolute;left:0;top:0;will-change:transform">
<g style="font-family:'Liberation Serif',serif" fill="#000">
<text x="213.3" y="37.2" font-size="15">homogeneous</text>
<text x="214.5" y="58.9" font-size="15">χ=40</text>
<text x="350.0" y="37.4" font-size="15">χ=30</text>
<text x="350.0" y="59.0" font-size="15">χ=29</text>
<text x="61.85" y="346.1" font-size="15.6" text-anchor="middle">0</text>
<text x="147.69" y="346.1" font-size="15.6" text-anchor="middle">10</text>
<text x="233.53" y="346.1" font-size="15.6" text-anchor="middle">20</text>
<text x="319.37" y="346.1" font-size="15.6" text-anchor="middle">30</text>
<text x="405.21" y="346.1" font-size="15.6" text-anchor="middle">40</text>
<text x="491.05" y="346.1" font-size="15.6" text-anchor="middle">50</text>
<text x="33.10" y="15.05" font-size="15.5">10</text><text x="47.40" y="6.75" font-size="9.7">-3</text>
<text x="33.10" y="60.61" font-size="15.5">10</text><text x="47.40" y="52.31" font-size="9.7">-4</text>
<text x="33.10" y="106.18" font-size="15.5">10</text><text x="47.40" y="97.88" font-size="9.7">-5</text>
<text x="33.10" y="151.74" font-size="15.5">10</text><text x="47.40" y="143.44" font-size="9.7">-6</text>
<text x="33.10" y="197.31" font-size="15.5">10</text><text x="47.40" y="189.01" font-size="9.7">-7</text>
<text x="33.10" y="242.87" font-size="15.5">10</text><text x="47.40" y="234.57" font-size="9.7">-8</text>
<text x="33.10" y="288.44" font-size="15.5">10</text><text x="47.40" y="280.14" font-size="9.7">-9</text>
<text x="28.70" y="334.00" font-size="15.5">10</text><text x="43.00" y="325.70" font-size="9.7">-10</text>
<text x="276.4" y="369.6" font-size="16.5" text-anchor="middle">Energy (eV)</text>
<text transform="translate(13.8,171.4) rotate(-90)" font-size="16.4" text-anchor="middle">Photoelectron yield (arb. units)</text>
<text x="70.9" y="313.9" font-size="12.1">10 U<tspan font-size="7.5" dy="5.3" dx="-0.3">p</tspan><tspan dy="-5.3" dx="-0.4">=10.5 eV</tspan></text>
</g>
</svg>
</body></html>
